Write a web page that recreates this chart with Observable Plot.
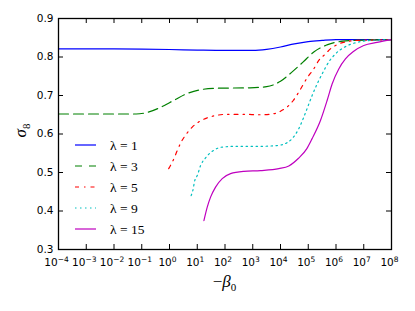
<!DOCTYPE html>
<html><head><meta charset="utf-8">
<script src="https://cdn.jsdelivr.net/npm/d3@7"></script>
<script src="https://cdn.jsdelivr.net/npm/@observablehq/plot@0.6"></script>
<style>html,body{margin:0;padding:0;background:#fff}svg{display:block}</style>
</head><body><div id="chart"></div>
<script>
// ---- data (x as log10(-beta0), y = sigma8) ----
const seriesNames = ["λ = 1", "λ = 3", "λ = 5", "λ = 9", "λ = 15"];
const seriesColors = ["#0000ff", "#008000", "#ff0000", "#00bfbf", "#bf00bf"];
const seriesDash = [null, "10,5", "4,5,1.5,5", "1.5,3.5", null];

const lam1LogBeta = [-4, -2, -1, 0, 1, 2, 3, 3.5, 4, 4.5, 5, 5.5, 6, 7, 8];
const lam1Sigma8  = [0.821, 0.821, 0.8205, 0.8195, 0.818, 0.817, 0.8172, 0.820, 0.826, 0.834, 0.840, 0.843, 0.845, 0.845, 0.845];

const lam3LogBeta = [-4, -2, -1.2, -0.8, -0.3, 0.15, 0.6, 1.2, 1.8, 2.9, 3.5, 4, 4.4, 4.8, 5.2, 5.7, 6.25, 7, 8];
const lam3Sigma8  = [0.652, 0.652, 0.652, 0.656, 0.670, 0.687, 0.704, 0.716, 0.719, 0.720, 0.723, 0.737, 0.760, 0.786, 0.813, 0.832, 0.841, 0.844, 0.845];

const lam5LogBeta = [-0.03, 0.16, 0.28, 0.42, 0.61, 0.82, 1.09, 1.36, 1.66, 2.02, 2.67, 3.28, 3.7, 4.0, 4.46, 4.66, 4.98, 5.18, 5.38, 5.62, 5.8, 6.1, 6.4, 6.76, 7.3, 8];
const lam5Sigma8  = [0.510, 0.536, 0.557, 0.579, 0.600, 0.618, 0.633, 0.642, 0.648, 0.651, 0.651, 0.650, 0.652, 0.659, 0.687, 0.709, 0.748, 0.767, 0.791, 0.808, 0.821, 0.834, 0.840, 0.843, 0.844, 0.845];

const lam9LogBeta = [0.78, 0.84, 0.91, 1.0, 1.12, 1.3, 1.54, 1.9, 2.44, 3.28, 3.88, 4.25, 4.42, 4.66, 4.84, 5.0, 5.14, 5.32, 5.5, 5.74, 5.98, 6.34, 6.76, 7.24, 8];
const lam9Sigma8  = [0.440, 0.453, 0.479, 0.492, 0.518, 0.538, 0.555, 0.566, 0.568, 0.568, 0.570, 0.578, 0.588, 0.614, 0.644, 0.674, 0.700, 0.730, 0.756, 0.787, 0.808, 0.827, 0.838, 0.843, 0.845];

const lam15LogBeta = [1.24, 1.36, 1.48, 1.66, 1.9, 2.2, 2.68, 3.28, 3.94, 4.3, 4.65, 4.95, 5.14, 5.44, 5.68, 5.86, 6.1, 6.34, 6.64, 7.0, 7.48, 8];
const lam15Sigma8  = [0.375, 0.410, 0.436, 0.462, 0.484, 0.497, 0.503, 0.505, 0.510, 0.517, 0.537, 0.562, 0.588, 0.635, 0.687, 0.730, 0.769, 0.795, 0.815, 0.830, 0.838, 0.845];

const xTickExponents = [-4, -3, -2, -1, 0, 1, 2, 3, 4, 5, 6, 7, 8];
const yTickValues = [0.3, 0.4, 0.5, 0.6, 0.7, 0.8, 0.9];

// ---- build table ----
const seriesX = [lam1LogBeta, lam3LogBeta, lam5LogBeta, lam9LogBeta, lam15LogBeta];
const seriesY = [lam1Sigma8, lam3Sigma8, lam5Sigma8, lam9Sigma8, lam15Sigma8];
const xTicks = xTickExponents.map(e => Math.pow(10, e));

const W = 415, H = 311, mL = 58, mR = 24, mT = 18, mB = 62;
const fw = W - mL - mR, fh = H - mT - mB, tickLen = 5;

const lineMarks = seriesNames.map((name, i) =>
  Plot.line(seriesX[i].map((e, j) => ({x: Math.pow(10, e), y: seriesY[i][j]})), {
    x: "x", y: "y", stroke: seriesColors[i], strokeWidth: 1.2,
    strokeDasharray: seriesDash[i] || undefined, curve: "monotone-x"
  })
);

const chart = Plot.plot({
  width: W, height: H,
  marginLeft: mL, marginRight: mR, marginTop: mT, marginBottom: mB,
  x: {type: "log", domain: [1e-4, 1e8]},
  y: {domain: [0.3, 0.9]},
  style: {fontFamily: "DejaVu Sans", fontSize: "10.5px", background: "white", color: "black"},
  marks: [
    Plot.axisX({ticks: xTicks, tickSize: 0, tickPadding: 9.5, label: null, dx: -2,
      tickFormat: d => "10^" + Math.round(Math.log10(d))}),
    Plot.axisY({ticks: yTickValues, tickSize: 0, tickPadding: 5, label: null,
      tickFormat: d => d.toFixed(1)}),
    ...lineMarks,
    Plot.tickX(xTicks, {x: d => d, insetTop: fh - tickLen, stroke: "black"}),
    Plot.tickX(xTicks, {x: d => d, insetBottom: fh - tickLen, stroke: "black"}),
    Plot.tickY(yTickValues, {y: d => d, insetRight: fw - tickLen, stroke: "black"}),
    Plot.tickY(yTickValues, {y: d => d, insetLeft: fw - tickLen, stroke: "black"}),
    Plot.frame({stroke: "black", strokeWidth: 1.3})
  ]
});

document.getElementById("chart").appendChild(chart);
const svg = d3.select(chart);

// superscript exponents on x tick labels
svg.selectAll("g[aria-label='x-axis tick label'] text").each(function() {
  const t = d3.select(this);
  const s = t.text();
  const m = s.match(/^10\^(-?\d+)$/);
  if (m) {
    const exp = m[1].replace("-", "\u2212");
    t.text("10");
    t.append("tspan").attr("dy", -4.4).attr("font-size", 7.5).text(exp);
  }
});

const serif = "'Liberation Serif', 'DejaVu Serif', serif";

// x axis title: −β0
const xt = svg.append("text").attr("x", mL + fw / 2).attr("y", 287)
  .attr("text-anchor", "middle").attr("font-family", serif).attr("font-size", 17).attr("fill", "black");
xt.append("tspan").text("\u2212");
xt.append("tspan").attr("font-style", "italic").text("β");
xt.append("tspan").attr("dy", 3.5).attr("font-size", 11).text("0");

// y axis title: σ8
const yt = svg.append("text").attr("transform", `translate(26,${mT + fh / 2 - 3}) rotate(-90)`)
  .attr("text-anchor", "middle").attr("font-family", serif).attr("font-size", 17).attr("fill", "black");
yt.append("tspan").attr("font-style", "italic").text("σ");
yt.append("tspan").attr("dy", 3.5).attr("font-size", 11).text("8");

// legend (inside the axes, no frame)
const lg = svg.append("g").attr("aria-label", "legend");
seriesNames.forEach((name, i) => {
  const y = 145 + 21 * i;
  lg.append("line").attr("x1", 75).attr("x2", 96).attr("y1", y).attr("y2", y)
    .attr("stroke", seriesColors[i]).attr("stroke-width", 1.2)
    .attr("stroke-dasharray", seriesDash[i] ? (i === 1 ? "7,7" : seriesDash[i]) : null);
  lg.append("text").attr("x", 110).attr("y", y).attr("dy", "0.35em")
    .attr("text-anchor", "start")
    .attr("font-family", serif).attr("font-size", 13.5).attr("fill", "black")
    .text(name);
});
</script>
</body></html>
